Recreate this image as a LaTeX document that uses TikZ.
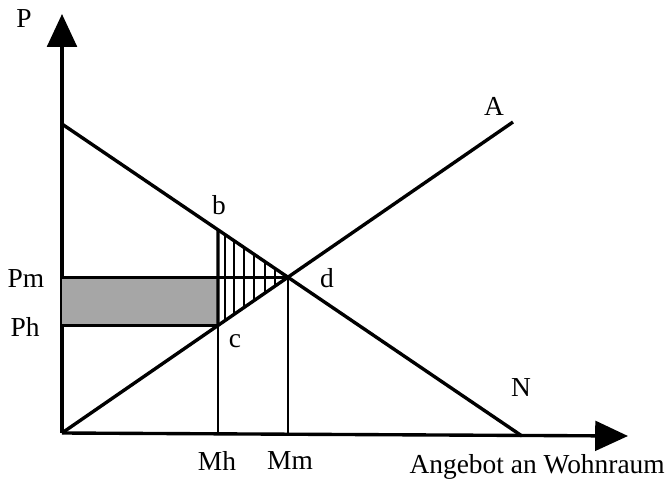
\documentclass[tikz,border=0pt]{standalone}
\usepackage{fontspec}
\setmainfont{Liberation Serif}
\usetikzlibrary{
  arrows.meta,
  calc
}

\begin{document}
\begin{tikzpicture}[
  x=0.025cm, y=-0.025cm,
  axis/.style={line width=2.4pt, -{Triangle[length=0.82cm, width=0.74cm]}},
  curve/.style={line width=2.4pt},
  guide/.style={line width=1pt},
  hatch/.style={line width=2.1pt},
  lbl/.style={font=\fontsize{19.5}{23}\selectfont, inner sep=0pt}
]
  \useasboundingbox (0,0) rectangle (667,483);

  % axes
  \coordinate (origin) at (62,433);
  \coordinate (ytip) at (62,14);
  \coordinate (xtip) at (628,436);
  \draw[axis] (origin) -- (ytip);
  \draw[axis] (origin) -- (xtip);

  % demand N and supply A
  \coordinate (nstart) at (62,124);
  \coordinate (nend) at (522,436);
  \coordinate (astart) at (62,433);
  \coordinate (aend) at (513,122);
  \coordinate (d) at (intersection of nstart--nend and astart--aend);
  \coordinate (b) at (intersection of nstart--nend and {218,0}--{218,483});
  \coordinate (c) at (intersection of astart--aend and {218,0}--{218,483});
  \coordinate (pm) at (origin |- d);
  \coordinate (ph) at (origin |- c);
  \coordinate (mh) at (origin -| c);
  \coordinate (mm) at (origin -| d);

  % shaded area
  \fill[black!35] (pm) rectangle (c);

  % hatched triangle
  \foreach \x in {225,234,244,254,265,275} {
    \draw[hatch] (\x,{124+312/460*(\x-62)}) -- (\x,{433-311/451*(\x-62)});
  }

  \draw[curve] (nstart) -- (nend);
  \draw[curve] (astart) -- (aend);
  \draw[curve] (pm) -- (d);
  \draw[curve] (ph) -- (c);
  \draw[curve] (b) -- (c);
  \draw[guide] (c) -- (mh);
  \draw[guide] (d) -- (mm);

  % labels
  \node[lbl] (plabel) at (24,19) {P};
  \node[lbl] (pmlabel) at (26,279) {Pm};
  \node[lbl] (phlabel) at (25,327) {Ph};
  \node[lbl] (blabel) at (219,205) {b};
  \node[lbl] (clabel) at (235,341) {c};
  \node[lbl] (dlabel) at (327,278) {d};
  \node[lbl] (alabel) at (494,106) {A};
  \node[lbl] (nlabel) at (521,388) {N};
  \node[lbl] (mhlabel) at (217,461) {Mh};
  \node[lbl] (mmlabel) at (290,461) {Mm};
  \node[lbl, anchor=east] (xlabel) at (665,467) {Angebot an Wohnraum};
\end{tikzpicture}
\end{document}
